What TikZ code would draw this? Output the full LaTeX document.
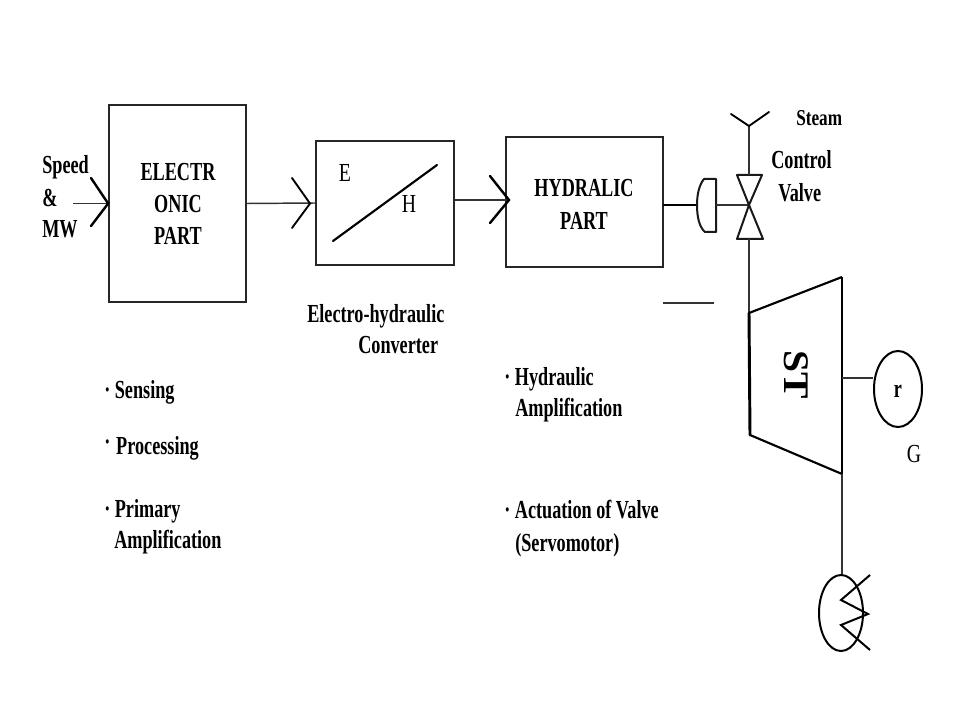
\documentclass[tikz,border=0pt]{standalone}
\usepackage{fontspec}
\setmainfont{Liberation Serif}
\newfontfamily\tallfont[FakeStretch=0.70,UprightFont=* Bold]{Liberation Serif}
\newfontfamily\tallthin[FakeStretch=0.76]{Liberation Serif}
\newfontfamily\steamfont[FakeStretch=0.76,UprightFont=* Bold]{Liberation Serif}
\newfontfamily\widefont[FakeStretch=1.1,UprightFont=* Bold]{Liberation Serif}
\usetikzlibrary{calc,shapes.geometric}
\tikzset{
  px/.style={x=0.75pt,y=-0.75pt},
  block/.style={draw=black!85,line width=1.3pt,inner sep=0pt,rectangle},
  label/.style={anchor=base west,inner sep=0pt,font=\fontsize{19.5}{22}\selectfont\tallfont},
  clabel/.style={anchor=base,inner sep=0pt,font=\fontsize{19.5}{22}\selectfont\tallfont},
  thin label/.style={anchor=base,inner sep=0pt,font=\fontsize{19.5}{22}\selectfont\tallthin},
  wire/.style={draw=black!80,line width=1.1pt},
  heavy/.style={draw=black,line width=1.8pt,line cap=round,line join=round},
  tipline/.style={draw=black,line width=1.8pt,line cap=round,line join=miter},
  shapeline/.style={draw=black!90,line width=1.5pt,line join=round},
  oval/.style={draw=black,line width=1.5pt,ellipse,inner sep=0pt},
}
\begin{document}
\begin{tikzpicture}[px]
\useasboundingbox[fill=white] (0,0) rectangle (960,720);
% blocks
\node[block,minimum width=102.75pt,minimum height=147.5pt] (elec) at (177.5,203.5) {};
\node[block,minimum width=103.5pt,minimum height=93pt] (conv) at (385,203) {};
\node[block,minimum width=117.75pt,minimum height=97.5pt] (hyd) at (584.5,202) {};
% block labels
\node[clabel] (l1) at (178,181) {ELECTR};
\node[clabel] (l2) at (178,213) {ONIC};
\node[clabel] (l3) at (178,245) {PART};
\node[clabel] (l4) at (584,197) {HYDRALIC};
\node[clabel] (l5) at (584,230) {PART};
\node[thin label] (e) at (345,182) {E};
\node[thin label] (h) at (409,213) {H};
\node[label] (s1) at (42,174) {Speed};
\node[label] (s2) at (42,207) {\&};
\node[label] (s3) at (42,238) {MW};
\node[label] (c1) at (307,322) {Electro-hydraulic};
\node[label] (c2) at (358,353) {Converter};
\node[label,font=\fontsize{17}{20}\selectfont\steamfont] (st1) at (796,126) {Steam};
\node[label] (cv1) at (771,169) {Control};
\node[label] (cv2) at (778,202) {Valve};
\node[label] (b1) at (104,398) {· Sensing};
\node[label] (b2) at (104,454) {\raisebox{3pt}{·}\ \kern1pt Processing};
\node[label] (b3) at (104,517) {· Primary};
\node[label] (b4) at (114,548) {Amplification};
\node[label] (b5) at (504,385) {·\ Hydraulic};
\node[label] (b6) at (515,416) {Amplification};
\node[label] (b7) at (504,518) {·\ Actuation of Valve};
\node[label] (b8) at (515,551) {(Servomotor)};
% connectors and arrow heads
\coordinate (inA) at (73,203.5);
\coordinate (tip3) at (509,200);
\draw[wire] (inA) -- (elec.west);
\draw[tipline] (91,178) -- (elec.west) -- (91,226);
\draw[wire] (elec.east) -- (conv.west);
\draw[line width=1.4pt,line cap=round] (292,178) -- (310,203.5) -- (292,228);
\draw[wire] (conv.east |- tip3) -- (tip3);
\draw[tipline] (490,176) -- (tip3) -- (490,223);
\draw[line width=1.6pt,line cap=round] (333,241) -- (437,165);
% actuator
\coordinate (act) at (697,205);
\coordinate (actR) at (716,205);
\coordinate (vc) at (749,205);
\draw[heavy] (hyd.east |- act) -- (act);
\draw[shapeline] (716,179) -- (704,179) .. controls (699,185) and (697,195) .. (act) .. controls (697,216) and (699,227) .. (705,232) -- (716,232) -- cycle;
\draw[wire] (actR) -- (vc);
% valve
\coordinate (vtop) at (749,175);
\coordinate (vbot) at (749,239);
\draw[shapeline] (737,175) -- (762,175) -- (vc) -- (737,239) -- (763,239) -- (vc) -- cycle;
\coordinate (yjoin) at (749,126);
\draw[wire] (yjoin) -- (vtop);
\draw[line width=1.4pt,line cap=round,line join=round] (731,114) -- (yjoin) -- (769,112);
\coordinate (tl) at (749,313);
\draw[wire] (vbot) -- (tl);
% loose line
\coordinate (loA) at (663,303);
\coordinate (loB) at (714,303);
\draw[draw=black!80,line width=1pt] (loA) -- (loB);
% turbine
\coordinate (ttop) at (842,277);
\coordinate (tbot) at (842,474);
\coordinate (tl2) at (750,435);
\draw[line width=1.6pt,line join=round] (tl) -- (ttop);
\draw[line width=1.1pt] (ttop) -- (tbot);
\draw[line width=1.6pt,line join=round] (tbot) -- (tl2);
\draw[line width=2.2pt,line cap=round] (tl) -- (tl2);
\node[rotate=-90,inner sep=0pt,font=\fontsize{27}{30}\selectfont\widefont] (st) at (796,375) {ST};
% generator
\node[oval,minimum width=36pt,minimum height=57pt] (gen) at (898,389) {};
\coordinate (tshaft) at (842,378);
\draw[wire] (tshaft) -- (gen.west |- tshaft);
\node[clabel] (r) at (898,397) {r};
\node[thin label] (g) at (914,462) {G};
% condenser
\node[oval,minimum width=33pt,minimum height=57pt] (cond) at (841,613) {};
\draw[wire] (tbot) -- (cond.north -| tbot);
\draw[line width=1.5pt,line join=miter] (870,575) -- (841,600) -- (868,614) -- (841,625) -- (870,650);
\end{tikzpicture}
\end{document}
